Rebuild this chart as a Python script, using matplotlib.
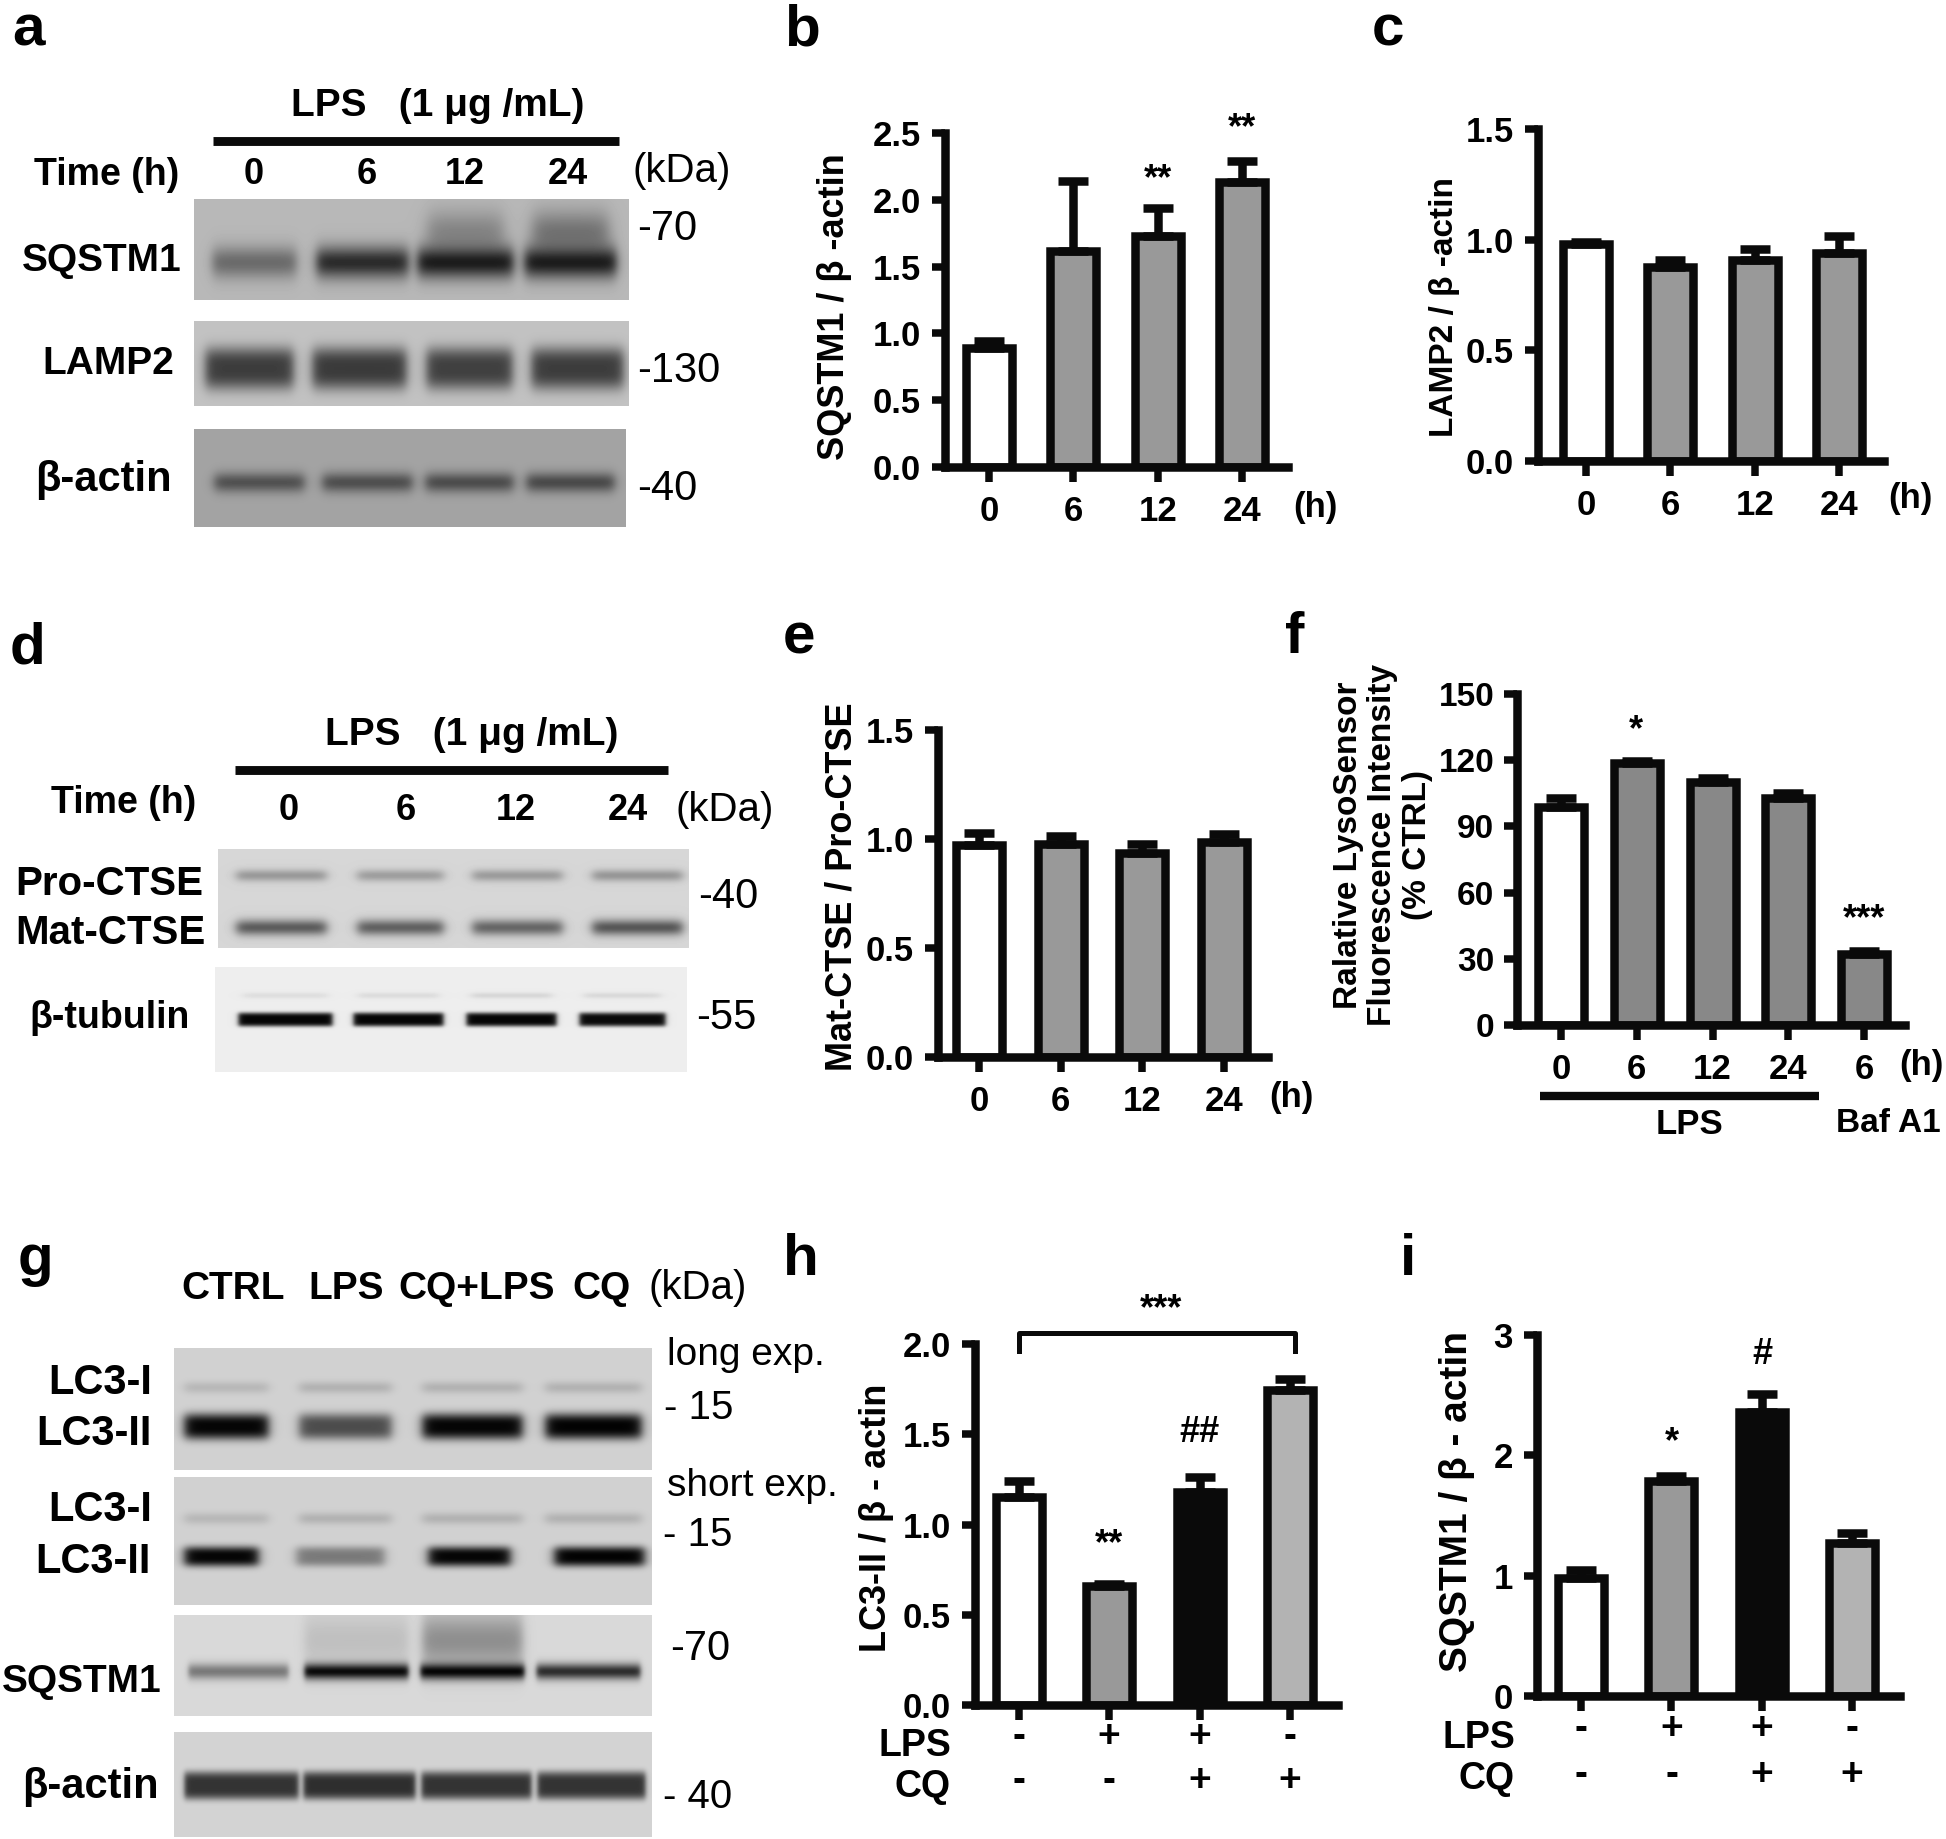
import numpy as np
import matplotlib
matplotlib.use('Agg')
import matplotlib.pyplot as plt

plt.rcParams['font.family'] = ['Liberation Sans', 'DejaVu Sans']

W, H = 1946, 1839

# bar values
time_labels = ['0', '6', '12', '24']
b_vals = [0.89, 1.62, 1.73, 2.13]
b_tops = [0.94, 2.14, 1.94, 2.29]
c_vals = [0.98, 0.875, 0.906, 0.938]
c_tops = [0.99, 0.906, 0.96, 1.017]
e_vals = [0.972, 0.976, 0.938, 0.985]
e_tops = [1.026, 1.012, 0.976, 1.022]
f_labels = ['0', '6', '12', '24', '6']
f_vals = [99, 118.7, 110, 103, 32]
f_tops = [103, 119.7, 112, 105, 33.6]
h_vals = [1.15, 0.658, 1.178, 1.744]
h_tops = [1.243, 0.668, 1.265, 1.808]
i_vals = [0.983, 1.787, 2.361, 1.273]
i_tops = [1.044, 1.832, 2.507, 1.357]
lps_signs = ['-', '+', '+', '-']
cq_signs = ['-', '-', '+', '+']

# band grey levels per lane (0 black, 1 white)
a_sqstm1 = [0.42, 0.17, 0.11, 0.11]
a_sqstm1_smear = [1, 1, 0.52, 0.45]
a_lamp2 = [0.24, 0.23, 0.25, 0.24]
a_actin = [0.32, 0.31, 0.3, 0.29]
d_pro = [0.6, 0.62, 0.61, 0.59]
d_mat = [0.36, 0.38, 0.4, 0.34]
d_tub = [0.02, 0.02, 0.02, 0.04]
d_tub_faint = [0.87, 0.86, 0.84, 0.85]
g_lc3i = [0.72, 0.7, 0.7, 0.7]
g_long = [0.02, 0.3, 0.02, 0.01]
g_short = [0.02, 0.48, 0.02, 0.01]
g_sqstm1 = [0.48, 0.04, 0.02, 0.18]
g_sqstm1_smear = [1, 0.75, 0.56, 1]
g_actin = [0.2, 0.18, 0.2, 0.2]

WHITE, GREY, DARK, BLACK, LIGHT = '#ffffff', '#999999', '#888888', '#0a0a0a', '#b3b3b3'
LW = 8.5 * 0.72

img = np.ones((H, W))
yy, xx = np.mgrid[0:H, 0:W]


def panel(x0, x1, y0, y1, bg):
    img[y0:y1, x0:x1] = bg


def bands(box, centers, halfw, y, hh, levels, soft=6, sharp=2):
    # paint one row of bands into the background image, only inside box
    x0, x1, y0, y1 = box
    for c, w, lev in zip(centers, halfw, levels):
        if lev >= 1:
            continue
        across = 0.5 * (np.tanh((xx - (c - w)) / soft) - np.tanh((xx - (c + w)) / soft))
        down = np.exp(-np.abs((yy - y) / hh) ** sharp)
        a = across * down
        a[:y0] = 0
        a[y1:] = 0
        a[:, :x0] = 0
        a[:, x1:] = 0
        img[:] = img * (1 - a) + lev * a


# blot a
box = (194, 629, 199, 300)
panel(194, 629, 199, 300, 0.72)
bands(box, [465, 570], [38, 38], 232, 22, a_sqstm1_smear[2:], soft=9)
bands(box, [254, 362, 465, 570], [42, 46, 48, 46], 262, 16, a_sqstm1)
box = (194, 629, 321, 406)
panel(194, 629, 321, 406, 0.76)
bands(box, [249, 359, 469, 577], [44, 47, 43, 46], 368, 21, a_lamp2, sharp=3)
box = (194, 626, 429, 527)
panel(194, 626, 429, 527, 0.64)
bands(box, [259, 367, 469, 570], [45, 45, 44, 44], 482, 10, a_actin)

# blot d
box = (218, 689, 849, 948)
panel(218, 689, 849, 948, 0.84)
bands(box, [281, 400, 517, 637], [45, 43, 45, 45], 875, 6, d_pro)
bands(box, [281, 400, 517, 637], [45, 43, 45, 45], 927, 8, d_mat)
box = (215, 687, 967, 1072)
panel(215, 687, 967, 1072, 0.93)
bands(box, [285, 398, 511, 622], [42, 40, 40, 38], 995, 3, d_tub_faint)
bands(box, [285, 398, 511, 622], [47, 45, 45, 43], 1019, 7, d_tub, soft=3, sharp=4)

# blot g
box = (174, 652, 1348, 1470)
panel(174, 652, 1348, 1470, 0.82)
bands(box, [226, 345, 472, 593], [42, 46, 50, 48], 1387, 6, g_lc3i)
bands(box, [226, 345, 472, 593], [42, 46, 50, 48], 1426, 13, g_long, sharp=3)
box = (174, 652, 1477, 1605)
panel(174, 652, 1477, 1605, 0.82)
bands(box, [226, 345, 472, 593], [42, 46, 50, 48], 1518, 6, g_lc3i)
bands(box, [221, 340, 469, 599], [37, 44, 41, 45], 1556, 10, g_short, sharp=3)
box = (174, 652, 1615, 1716)
panel(174, 652, 1615, 1716, 0.85)
bands(box, [238, 356, 472, 588], [50, 52, 50, 52], 1640, 28, g_sqstm1_smear)
bands(box, [238, 356, 472, 588], [50, 52, 52, 52], 1671, 8, g_sqstm1, soft=3)
box = (174, 652, 1732, 1837)
panel(174, 652, 1732, 1837, 0.83)
bands(box, [241, 359, 476, 591], [57, 56, 55, 54], 1785, 14, g_actin, soft=3, sharp=4)

fig = plt.figure(figsize=(W / 100, H / 100), dpi=100)

# page axes in pixel coordinates, holds the blots and all free text
pa = fig.add_axes([0, 0, 1, 1], zorder=0)
pa.imshow(img, cmap='gray', vmin=0, vmax=1, extent=(0, W, H, 0), aspect='auto', interpolation='bilinear')
pa.set_xlim(0, W)
pa.set_ylim(H, 0)
pa.axis('off')


def bold(x, y, s, size=28, ha='center', **kw):
    pa.text(x, y, s, fontsize=size, fontweight='bold', ha=ha, va='center', **kw)


def thin(x, y, s, size=28):
    pa.text(x, y, s, fontsize=size, ha='center', va='center')


def chart(left, right, y_top, y_zero, c0, c3, vals, tops, colors, ymax, yticks, yfmt,
          xlabels, ylabel, lab_x, lab_y, lab_size):
    ax = fig.add_axes([left / W, 1 - y_zero / H, (right - left) / W, (y_zero - y_top) / H], zorder=1)
    ax.patch.set_visible(False)
    sp = (c3 - c0) / (len(vals) - 1)
    pos = np.arange(len(vals))
    ax.set_xlim((left - c0) / sp, (right - c0) / sp)
    ax.set_ylim(0, ymax)
    ax.bar(pos, vals, width=46 / sp, color=colors, edgecolor=BLACK, linewidth=LW, zorder=2)
    up = np.array(tops) - np.array(vals)
    ax.errorbar(pos, vals, yerr=[np.zeros(len(vals)), up], fmt='none', ecolor=BLACK,
                elinewidth=LW, capsize=11, capthick=LW, zorder=3)
    for s in ['top', 'right']:
        ax.spines[s].set_visible(False)
    for s in ['left', 'bottom']:
        ax.spines[s].set_linewidth(LW)
        ax.spines[s].set_color(BLACK)
    ax.set_yticks(yticks)
    ax.set_yticklabels([yfmt % t for t in yticks], fontsize=25, fontweight='bold')
    ax.set_xticks(pos)
    ax.set_xticklabels(xlabels, fontsize=25, fontweight='bold')
    ax.tick_params(axis='y', length=9.4, width=5.4, pad=8, color=BLACK)
    ax.tick_params(axis='x', length=11, width=5.4, pad=9, color=BLACK)
    ax.set_ylabel(ylabel, fontsize=lab_size, fontweight='bold', ha='center', va='center', linespacing=1.15)
    ax.yaxis.set_label_coords(lab_x, lab_y, transform=pa.transData)
    return ax


chart(945, 1288, 133, 467, 989, 1242, b_vals, b_tops, [WHITE, GREY, GREY, GREY], 2.5,
      [0, 0.5, 1, 1.5, 2, 2.5], '%.1f', time_labels, 'SQSTM1 / β -actin', 834, 307, 26)
chart(1538, 1884, 129, 461, 1586, 1839, c_vals, c_tops, [WHITE, GREY, GREY, GREY], 1.5,
      [0, 0.5, 1, 1.5], '%.1f', time_labels, 'LAMP2 / β -actin', 1444, 307, 24)
chart(938, 1268, 730, 1057, 979, 1224, e_vals, e_tops, [WHITE, GREY, GREY, GREY], 1.5,
      [0, 0.5, 1, 1.5], '%.1f', time_labels, 'Mat-CTSE / Pro-CTSE', 842, 887, 26)
fax = chart(1517, 1905, 694, 1025, 1561, 1864, f_vals, f_tops, [WHITE, DARK, DARK, DARK, DARK], 150,
            [0, 30, 60, 90, 120, 150], '%d', f_labels,
            'Ralative LysoSensor\nFluorescence Intensity\n(% CTRL)', 1383, 845, 24)
fax.tick_params(axis='y', labelsize=24, pad=7)
hax = chart(975, 1338, 1344, 1705, 1019, 1290, h_vals, h_tops, [WHITE, GREY, BLACK, LIGHT], 2,
            [0, 0.5, 1, 1.5, 2], '%.1f', ['', '', '', ''], 'LC3-II / β - actin', 876, 1518, 26)
chart(1537, 1900, 1335, 1696, 1581, 1852, i_vals, i_tops, [WHITE, GREY, BLACK, LIGHT], 3,
      [0, 1, 2, 3], '%d', ['', '', '', ''], 'SQSTM1 / β - actin', 1457, 1501, 28)

# bracket over h
hax.plot([0, 0, 3.05, 3.05], [1.96, 2.06, 2.06, 1.96], color=BLACK, lw=3.6, clip_on=False, zorder=4)

# panel letters
for s, x, y in [('a', 12, 45), ('b', 784, 45), ('c', 1372, 45), ('d', 10, 663), ('e', 783, 653),
                ('f', 1285, 653), ('g', 18, 1275), ('h', 783, 1275), ('i', 1400, 1275)]:
    pa.text(x, y, s, fontsize=42, fontweight='bold', ha='left', va='baseline')

# (h) after the time axes
for x, y in [(1315, 507), (1910, 498), (1291, 1097), (1921, 1066)]:
    bold(x, y, '(h)', 25)

# stars and hashes
for x, y, s in [(1158, 180, '**'), (1242, 129, '**'), (1636, 731, '*'), (1864, 920, '***'),
                (1161, 1310, '***'), (1109, 1545, '**'), (1200, 1433, '##'),
                (1672, 1443, '*'), (1762, 1354, '#')]:
    bold(x, y, s, 26)

# h / i sign rows
for xs, ys, lab_r, lab_y in [([1019, 1109, 1200, 1290], (1737, 1781), 951, (1746, 1787)),
                             ([1581, 1672, 1762, 1852], (1729, 1775), 1515, (1738, 1779))]:
    for x, a, c in zip(xs, lps_signs, cq_signs):
        bold(x, ys[0], a, 28)
        bold(x, ys[1], c, 28)
    bold(lab_r, lab_y[0], 'LPS', 27, ha='right')
    bold(lab_r, lab_y[1], 'CQ', 27, ha='right')

# f group labels
pa.plot([1540, 1819], [1096, 1096], color=BLACK, lw=6, solid_capstyle='butt')
bold(1689, 1125, 'LPS', 25)
bold(1888, 1123, 'Baf A1', 24)

# a text
bold(438, 106, 'LPS   (1 μg /mL)', 28)
pa.plot([213, 619], [141, 141], color=BLACK, lw=6.4, solid_capstyle='butt')
bold(107, 175, 'Time (h)', 27)
for x, s in zip([254, 367, 465, 568], time_labels):
    bold(x, 174, s, 26)
thin(682, 171, '(kDa)', 29)
thin(667, 229, '-70', 30)
thin(679, 371, '-130', 30)
thin(667, 489, '-40', 30)
bold(102, 261, 'SQSTM1')
bold(108, 364, 'LAMP2')
bold(103, 480, 'β-actin', 30)

# d text
bold(472, 735, 'LPS   (1 μg /mL)', 28)
pa.plot([235, 668], [770, 770], color=BLACK, lw=6.4, solid_capstyle='butt')
bold(124, 803, 'Time (h)', 27)
for x, s in zip([289, 406, 516, 628], time_labels):
    bold(x, 811, s, 26)
thin(725, 810, '(kDa)', 29)
bold(109, 884, 'Pro-CTSE', 29)
bold(110, 933, 'Mat-CTSE', 29)
bold(110, 1018, 'β-tubulin', 27)
thin(728, 897, '-40', 30)
thin(726, 1018, '-55', 30)

# g text
for x, s in zip([233, 346, 477, 601], ['CTRL', 'LPS', 'CQ+LPS', 'CQ']):
    bold(x, 1289, s, 28)
thin(698, 1288, '(kDa)', 29)
bold(100, 1383, 'LC3-I', 30)
bold(94, 1434, 'LC3-II', 30)
bold(100, 1510, 'LC3-I', 30)
bold(93, 1562, 'LC3-II', 30)
bold(82, 1682, 'SQSTM1')
bold(90, 1787, 'β-actin', 30)
thin(746, 1355, 'long exp.')
thin(699, 1408, '- 15', 29)
thin(752, 1486, 'short exp.')
thin(698, 1535, '- 15', 29)
thin(700, 1649, '-70', 30)
thin(698, 1797, '- 40', 29)

fig.savefig('out.png', dpi=100)
